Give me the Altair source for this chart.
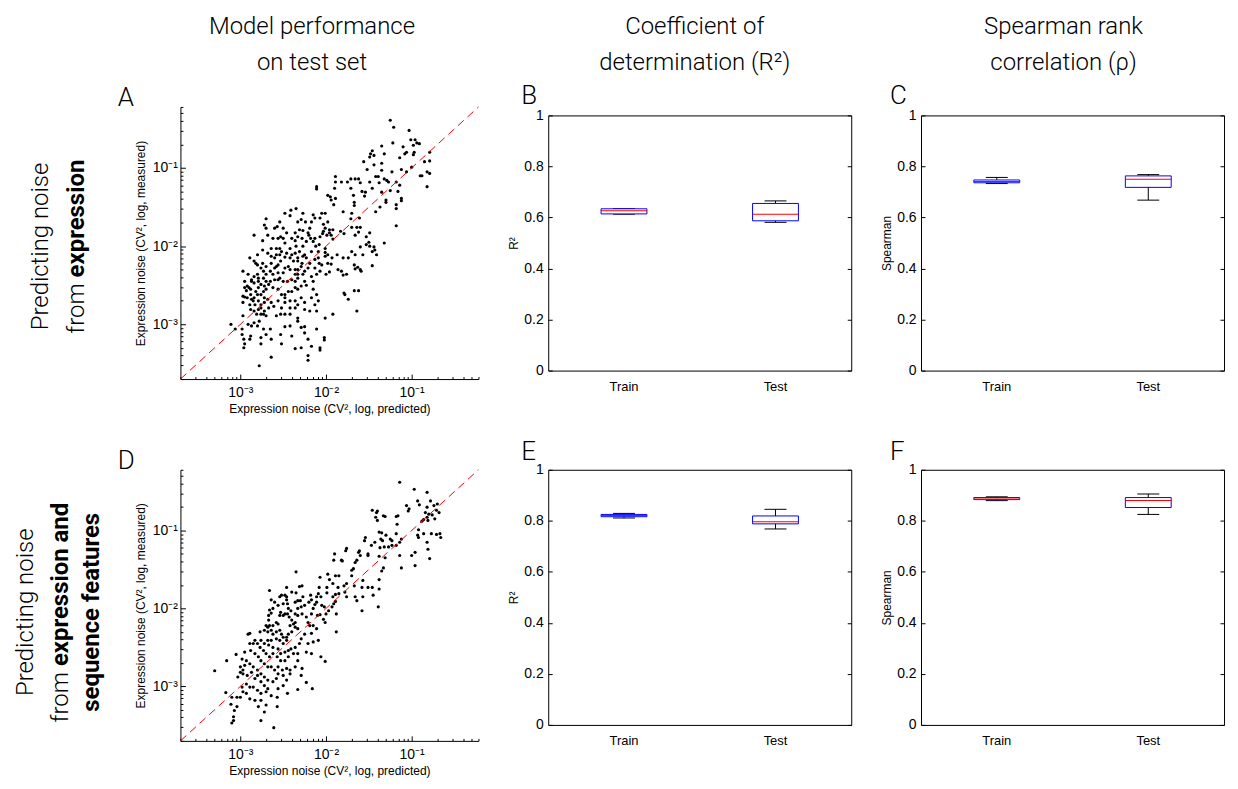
import math
import altair as alt
import pandas as pd

# ---------------- data (log10 of CV^2) ----------------
# Panel A: predicting noise from expression (test set)
a_pred = [-1.25,-1.21,-1.03,-1.22,-0.91,-1.01,-0.96,-0.94,-0.98,-1.10,-1.06,-0.97,-1.08,-0.98,-1.14,-0.79,-1.35,-1.46,-1.48,-1.44,
          -1.49,-1.32,-1.56,-1.44,-1.35,-1.12,-1.00,-0.85,-0.79,-0.82,-0.79,-0.90,-1.06,-1.35,-1.42,-1.32,-1.23,-1.27,-1.18,-1.14,
          -0.82,-0.88,-1.39,-1.52,-1.62,-1.66,-1.89,-1.89,-1.82,-1.71,-1.75,-1.60,-1.49,-1.71,-1.58,-1.54,-1.55,-1.46,-1.38,-1.29,
          -1.35,-1.25,-1.16,-1.12,-1.12,-1.18,-1.18,-1.30,-1.30,-1.37,-1.42,-1.68,-1.67,-1.67,-1.70,-1.80,-1.71,-1.61,-1.60,-1.62,
          -1.66,-1.53,-1.49,-1.50,-1.53,-1.49,-1.44,-1.43,-1.41,-1.46,-1.57,-1.32,-1.46,-1.18,-1.79,-1.83,-1.70,-1.64,-1.92,-1.92,
          -1.80,-1.74,-1.87,-1.67,-1.66,-1.63,-1.59,-1.60,-1.67,-1.62,-1.78,-1.79,-1.74,-1.64,-1.92,-1.96,-2.01,-2.01,-2.09,-2.11,
          -2.11,-1.90,-1.98,-1.95,-1.94,-1.89,-1.91,-2.01,-2.05,-2.07,-1.98,-2.03,-2.01,-1.96,-2.03,-2.04,-2.07,-1.99,-1.96,-1.94,
          -2.12,-2.08,-2.01,-2.09,-2.13,-2.17,-2.19,-2.17,-2.24,-2.29,-2.33,-2.31,-2.27,-2.21,-2.18,-2.15,-2.28,-2.33,-2.40,-2.35,
          -2.36,-2.42,-2.48,-2.50,-2.53,-2.56,-2.54,-2.58,-2.64,-2.68,-2.64,-2.60,-2.54,-2.48,-2.42,-2.38,-2.33,-2.27,-2.25,-2.23,
          -2.19,-2.29,-2.33,-2.36,-2.44,-2.48,-2.50,-2.53,-2.56,-2.60,-2.65,-2.70,-2.73,-2.76,-2.80,-2.84,-2.89,-2.91,-2.73,-2.70,
          -2.65,-2.60,-2.54,-2.50,-2.45,-2.40,-2.36,-2.33,-2.27,-2.25,-2.23,-2.29,-2.33,-2.36,-2.40,-2.44,-2.48,-2.52,-2.56,-2.62,
          -2.67,-2.72,-2.76,-2.79,-2.84,-2.87,-2.92,-2.95,-2.97,-2.93,-2.90,-2.88,-2.84,-2.80,-2.76,-2.72,-2.68,-2.64,-2.72,-2.76,
          -2.79,-2.85,-2.89,-2.88,-2.84,-2.79,-2.73,-2.70,-2.78,-2.84,-2.80,-2.73,-2.70,-2.76,-2.87,-2.91,-2.97,-2.98,-2.98,-2.96,
          -2.95,-2.96,-2.88,-2.89,-3.06,-3.11,-2.97,-2.97,-2.95,-2.65,-2.64,-2.64,-2.78,-2.76,-2.52,-2.53,-2.48,-2.48,-2.42,-2.42,
          -2.40,-2.36,-2.33,-2.29,-2.25,-2.25,-2.29,-2.21,-2.21,-2.21,-2.17,-2.11,-2.07,-2.07,-2.02,-2.02,-2.01,-2.11,-2.19,-2.25,
          -2.29,-2.17,-2.13,-2.09,-2.11,-2.15,-2.15,-2.17,-2.11,-2.07,-2.08,-2.05,-1.98,-1.98,-1.93,-2.00,-1.94,-1.86,-1.82,-1.80,
          -1.76,-1.70,-1.66,-1.60,-2.48,-2.42,-2.41,-2.54,-2.57,-2.70,-2.70,-2.72,-2.84,-2.74,-2.68,-2.62,-2.60,-2.50,-2.46,-2.36,
          -2.35,-2.27,-2.15,-2.13,-2.20,-2.23,-2.27,-2.31,-2.36,-2.40,-2.46,-2.52,-2.58,-2.74,-2.80,-2.82,-2.74,-2.70,-2.64,-2.58,
          -2.80,-2.84,-2.87,-2.79,-2.70,-2.73,-2.79,-2.82,-2.88,-2.95,-2.92,-2.87,-2.83,-2.76,-2.81,-2.76,-2.72,-2.67,-2.61,-2.56,
          -2.52,-2.48,-2.42,-2.36,-2.33,-2.36,-2.42,-2.48,-2.53,-2.58,-2.25,-2.33,-2.56,-2.62,-2.56,-2.42,-2.36,-2.33,-2.25,-2.21,
          -2.28,-2.33,-2.13,-2.13]
a_meas = [-0.39,-0.48,-0.52,-0.68,-0.69,-0.64,-0.64,-0.68,-0.71,-0.73,-0.80,-0.80,-0.82,-0.83,-0.87,-0.80,-0.72,-0.78,-0.82,-0.84,
          -0.86,-0.82,-0.92,-0.96,-0.94,-1.02,-0.99,-0.92,-0.91,-1.05,-1.07,-1.10,-1.05,-1.03,-1.11,-1.14,-1.05,-1.18,-1.18,-1.22,
          -1.24,-1.10,-1.11,-1.02,-1.14,-1.14,-1.11,-1.18,-1.18,-1.14,-1.18,-1.19,-1.18,-1.26,-1.30,-1.31,-1.36,-1.26,-1.19,-1.16,
          -1.31,-1.29,-1.30,-1.39,-1.42,-1.47,-1.52,-1.41,-1.44,-1.50,-1.56,-1.35,-1.44,-1.48,-1.58,-1.56,-1.65,-1.64,-1.76,-1.82,
          -1.86,-1.88,-1.83,-1.95,-1.98,-2.00,-2.01,-2.05,-2.11,-2.07,-2.11,-1.96,-2.25,-1.74,-1.84,-1.81,-1.76,-1.76,-1.79,-1.91,
          -2.15,-2.15,-2.11,-2.24,-2.29,-2.27,-2.32,-2.30,-2.57,-2.57,-2.62,-2.60,-2.68,-2.83,-2.87,-2.33,-2.08,-2.13,-2.07,-1.24,
          -1.27,-1.26,-1.35,-1.37,-1.41,-1.39,-1.47,-1.58,-1.58,-1.64,-1.69,-1.72,-1.77,-1.79,-1.81,-1.84,-1.88,-1.86,-1.83,-1.86,
          -2.00,-1.98,-2.03,-2.15,-2.17,-2.07,-1.77,-1.69,-1.69,-1.66,-1.69,-1.79,-1.80,-1.83,-1.90,-1.94,-1.90,-1.88,-1.90,-2.00,
          -1.93,-2.03,-1.96,-1.90,-1.88,-1.90,-2.03,-2.03,-2.03,-2.09,-2.13,-2.15,-2.11,-2.14,-2.15,-2.19,-2.19,-2.13,-2.11,-2.15,
          -2.22,-2.26,-2.30,-2.30,-2.26,-2.28,-2.34,-2.19,-2.24,-2.28,-2.32,-2.36,-2.32,-2.28,-2.24,-2.19,-2.15,-2.36,-2.41,-2.45,
          -2.45,-2.43,-2.41,-2.45,-2.45,-2.43,-2.45,-2.41,-2.36,-2.45,-2.50,-2.51,-2.55,-2.53,-2.58,-2.58,-2.62,-2.62,-2.55,-2.53,
          -2.49,-2.51,-2.49,-2.45,-2.47,-2.45,-2.51,-2.45,-2.32,-2.57,-2.53,-2.62,-2.66,-2.62,-2.62,-2.66,-2.68,-2.72,-2.72,-2.75,
          -2.70,-2.70,-2.75,-2.81,-2.83,-2.81,-2.87,-2.89,-2.96,-2.98,-3.02,-3.06,-3.13,-3.17,-3.02,-3.00,-2.89,-3.06,-3.13,-3.19,
          -3.25,-3.30,-3.15,-3.19,-3.06,-3.00,-2.72,-2.64,-2.65,-3.06,-3.19,-3.42,-3.53,-3.25,-3.25,-3.13,-3.03,-2.87,-2.87,-3.02,
          -3.15,-3.31,-2.96,-3.04,-3.03,-3.11,-3.30,-3.19,-3.40,-3.46,-3.28,-3.06,-3.30,-3.33,-3.20,-3.17,-2.92,-2.83,-2.83,-2.72,
          -2.66,-2.66,-2.75,-2.70,-2.62,-2.55,-2.45,-2.39,-2.36,-2.32,-2.22,-2.24,-2.22,-2.11,-2.15,-2.36,-2.23,-2.30,-2.32,-2.37,
          -2.36,-2.07,-2.11,-2.01,-1.58,-1.61,-1.54,-1.69,-1.75,-1.77,-1.65,-1.73,-1.86,-1.93,-1.86,-1.90,-1.77,-1.77,-1.83,-1.83,
          -1.52,-1.58,-1.60,-1.64,-1.86,-1.94,-2.00,-2.07,-2.09,-2.11,-2.09,-2.07,-2.11,-2.05,-2.11,-2.22,-2.22,-2.26,-2.22,-2.26,
          -2.36,-2.39,-2.43,-2.41,-2.55,-2.58,-2.53,-2.58,-2.55,-2.53,-2.66,-2.68,-2.75,-2.79,-2.87,-2.87,-2.83,-2.79,-2.77,-2.70,
          -2.79,-2.72,-2.70,-2.70,-2.75,-2.79,-2.79,-2.66,-2.87,-2.89,-2.81,-2.92,-2.43,-2.36,-2.34,-2.30,-2.36,-2.36,-2.32,-2.28,
          -2.22,-2.15,-2.28,-1.90]

# Panel D: predicting noise from expression and sequence features (test set)
d_pred = [-1.14,-0.97,-0.82,-0.93,-0.91,-1.06,-1.03,-1.04,-0.78,-0.82,-0.74,-0.70,-0.71,-0.68,-0.84,-0.80,-0.82,-0.86,-0.88,-0.76,
          -0.73,-0.81,-0.92,-0.93,-0.92,-0.86,-0.77,-0.71,-0.67,-0.66,-0.82,-0.81,-0.79,-0.96,-0.96,-1.00,-1.12,-1.14,-1.18,-1.14,
          -1.12,-1.18,-1.17,-1.18,-1.16,-1.31,-1.33,-1.46,-1.41,-1.40,-1.42,-1.40,-1.34,-1.36,-1.37,-1.32,-1.38,-1.31,-1.27,-1.23,
          -1.25,-1.23,-1.30,-1.35,-1.38,-1.43,-1.54,-1.55,-1.47,-1.51,-1.51,-1.60,-1.62,-1.61,-1.64,-1.66,-1.70,-1.68,-1.76,-1.77,
          -1.82,-1.81,-1.90,-1.91,-1.89,-1.85,-1.70,-1.76,-1.79,-1.78,-1.76,-1.67,-1.66,-1.64,-1.58,-1.57,-1.57,-1.58,-1.51,-1.46,
          -1.45,-1.38,-1.38,-1.39,-1.35,-1.33,-1.85,-1.89,-1.92,-1.91,-1.93,-1.97,-1.89,-1.86,-1.92,-1.98,-1.96,-1.99,-1.99,-2.07,
          -2.08,-2.09,-2.06,-2.11,-2.11,-2.13,-2.05,-2.02,-2.00,-2.03,-2.01,-1.88,-1.88,-2.07,-2.10,-2.15,-2.17,-2.17,-2.18,-2.20,
          -2.28,-2.31,-2.35,-2.27,-2.30,-2.25,-2.29,-2.33,-2.28,-2.33,-2.23,-2.21,-2.19,-2.15,-2.11,-2.17,-2.15,-2.21,-2.23,-2.09,
          -2.06,-2.01,-2.29,-2.31,-2.28,-2.29,-2.23,-2.16,-2.33,-2.33,-2.36,-2.36,-2.38,-2.42,-2.40,-2.36,-2.41,-2.44,-2.45,-2.43,
          -2.48,-2.50,-2.54,-2.53,-2.46,-2.46,-2.45,-2.52,-2.54,-2.60,-2.66,-2.64,-2.58,-2.56,-2.62,-2.66,-2.68,-2.72,-2.68,-2.64,
          -2.62,-2.58,-2.54,-2.52,-2.50,-2.46,-2.44,-2.40,-2.46,-2.50,-2.54,-2.58,-2.64,-2.68,-2.72,-2.67,-2.62,-2.56,-2.53,-2.48,
          -2.44,-2.41,-2.36,-2.38,-2.44,-2.48,-2.53,-2.57,-2.62,-2.66,-2.70,-2.73,-2.77,-2.80,-2.76,-2.83,-2.85,-2.88,-2.83,-2.79,
          -2.76,-2.72,-2.68,-2.64,-2.60,-2.56,-2.51,-2.46,-2.42,-2.50,-2.56,-2.58,-2.62,-2.68,-2.72,-2.76,-2.80,-2.85,-2.89,-2.93,
          -2.95,-2.97,-3.00,-3.00,-2.97,-2.92,-2.87,-2.83,-2.80,-2.76,-2.72,-2.68,-2.70,-2.64,-2.76,-2.80,-2.85,-2.89,-2.93,-2.98,
          -2.97,-2.93,-2.89,-2.83,-2.79,-2.76,-2.70,-2.72,-2.76,-2.61,-2.57,-2.57,-2.56,-2.45,-2.50,-2.46,-2.42,-3.03,-3.04,-3.00,
          -3.04,-3.07,-3.08,-3.10,-3.08,-3.11,-3.10,-3.05,-3.17,-3.30,-3.16,-2.98,-2.95,-2.91,-2.89,-2.89,-2.77,-2.70,-2.67,-2.67,
          -2.62,-2.56,-2.50,-2.66,-2.64,-2.48,-2.46,-2.40,-2.35,-2.33,-2.36,-2.17,-2.33,-2.36,-2.33,-2.25]
d_meas = [-0.38,-0.47,-0.51,-0.62,-0.67,-0.68,-0.72,-0.75,-0.62,-0.70,-0.68,-0.66,-0.74,-0.77,-0.77,-0.79,-0.83,-0.86,-0.88,-0.80,
          -0.85,-0.87,-0.99,-1.06,-1.09,-1.04,-1.04,-1.05,-1.04,-1.09,-1.15,-1.24,-1.36,-1.28,-1.45,-1.32,-1.48,-1.32,-1.19,-1.15,
          -1.11,-1.04,-0.92,-0.82,-0.81,-0.82,-0.81,-0.74,-0.77,-0.75,-0.83,-0.87,-1.13,-1.11,-1.22,-1.21,-1.33,-1.35,-1.21,-1.13,
          -1.11,-1.19,-1.06,-1.03,-1.02,-1.15,-1.09,-1.13,-1.19,-1.30,-1.32,-1.32,-1.28,-1.26,-1.38,-1.41,-1.51,-1.49,-1.23,-1.26,
          -1.38,-1.39,-1.30,-1.38,-1.58,-1.58,-1.58,-1.68,-1.71,-1.79,-1.85,-1.71,-1.85,-1.90,-1.73,-1.64,-1.85,-2.03,-1.73,-1.73,
          -1.83,-1.63,-1.75,-1.98,-1.52,-1.48,-1.81,-1.82,-1.85,-1.94,-1.98,-2.03,-1.91,-1.73,-1.68,-1.56,-1.63,-1.73,-1.80,-1.60,
          -1.73,-1.81,-1.85,-1.85,-1.92,-1.95,-1.96,-1.98,-2.07,-2.14,-2.18,-2.07,-2.30,-2.08,-2.09,-2.00,-2.07,-1.89,-1.83,-1.92,
          -1.71,-1.72,-1.53,-1.85,-1.90,-1.96,-1.98,-2.00,-2.07,-2.09,-2.11,-2.18,-2.22,-2.22,-2.26,-2.32,-2.43,-2.45,-2.56,-2.41,
          -2.62,-2.68,-2.39,-2.45,-2.77,-2.86,-2.95,-3.03,-3.04,-2.26,-2.24,-2.18,-2.20,-2.22,-2.15,-2.07,-2.03,-2.00,-2.07,-2.11,
          -2.07,-2.09,-2.09,-2.05,-1.85,-1.89,-1.94,-1.83,-1.85,-1.92,-2.02,-2.06,-2.18,-2.20,-2.22,-2.22,-2.24,-2.28,-2.30,-2.28,
          -2.33,-2.30,-2.28,-2.33,-2.37,-2.37,-2.33,-2.30,-2.41,-2.45,-2.41,-2.39,-2.41,-2.41,-2.45,-2.47,-2.50,-2.52,-2.58,-2.56,
          -2.54,-2.52,-2.50,-2.58,-2.62,-2.67,-2.67,-2.62,-2.58,-2.62,-2.58,-2.54,-2.50,-2.45,-2.41,-2.41,-2.45,-2.54,-2.58,-2.62,
          -2.67,-2.71,-2.75,-2.75,-2.79,-2.75,-2.79,-2.77,-2.84,-2.86,-2.84,-2.90,-2.94,-2.92,-2.88,-2.84,-2.79,-2.75,-2.71,-2.67,
          -2.73,-2.79,-2.82,-2.75,-2.84,-2.86,-2.82,-2.90,-2.86,-2.94,-2.99,-3.03,-3.07,-3.12,-3.09,-3.05,-3.01,-3.01,-2.97,-3.01,
          -3.07,-3.09,-3.16,-3.18,-3.26,-3.18,-3.24,-3.33,-3.44,-3.53,-3.26,-3.14,-3.03,-3.09,-2.99,-2.92,-2.79,-2.88,-3.14,-3.14,
          -3.26,-3.31,-3.39,-3.47,-3.44,-3.23,-3.14,-2.59,-3.08,-2.80,-2.67,-2.65,-2.56,-2.33,-2.32,-2.45,-2.30,-2.22,-2.15,-2.09,
          -2.00,-1.96,-1.94,-1.77,-1.89,-1.83,-1.73,-1.79,-1.80,-1.90,-1.92,-2.58,-2.67,-2.75,-2.58,-2.33]

# Box-plot summaries: [Train, Test]
groups = ["Train", "Test"]
b_stats = {"lower": [0.613, 0.581], "q1": [0.614, 0.587], "med": [0.626, 0.613], "q3": [0.634, 0.655], "upper": [0.635, 0.665]}
c_stats = {"lower": [0.733, 0.668], "q1": [0.736, 0.718], "med": [0.741, 0.750], "q3": [0.747, 0.763], "upper": [0.757, 0.768]}
e_stats = {"lower": [0.811, 0.768], "q1": [0.816, 0.788], "med": [0.821, 0.796], "q3": [0.825, 0.819], "upper": [0.829, 0.845]}
f_stats = {"lower": [0.879, 0.825], "q1": [0.883, 0.852], "med": [0.885, 0.880], "q3": [0.891, 0.891], "upper": [0.894, 0.905]}

# ---------------- styling ----------------
AFONT = "Liberation Sans"
TFONT = "Roboto"
LO, HI = -3.7, -0.22
MAJOR = [-3, -2, -1]
MINOR = sorted({round(d + math.log10(k), 6) for d in (-4, -3, -2, -1) for k in range(2, 10)
                if LO <= d + math.log10(k) <= HI})
LABEL_EXPR = "'10' + (datum.value < -2.5 ? '⁻³' : datum.value < -1.5 ? '⁻²' : '⁻¹')"

SW, SH1, SH2 = 299, 273, 272
BW, BH = 304, 256


def text(s, x, y, size=24, weight=300, align="center", angle=0, font=TFONT):
    return alt.Chart(pd.DataFrame({"t": [s]})).mark_text(
        align=align, baseline="alphabetic", angle=angle, fontSize=size,
        fontWeight=weight, font=font, color="black"
    ).encode(text="t:N", x=alt.value(x), y=alt.value(y))


def scatter(pred, meas, height, extras):
    df = pd.DataFrame({"pred": pred, "meas": meas})
    sc = alt.Scale(domain=[LO, HI], nice=False, zero=False)
    x_major = alt.Axis(orient="bottom", values=MAJOR, labelExpr=LABEL_EXPR, tickSize={"expr": "-5"},
                       labelPadding=12, labelFontSize=14, labelOverlap=False, labelFlush=False,
                       title="Expression noise (CV², log, predicted)", titleFontSize=12, titlePadding=4)
    y_major = alt.Axis(orient="left", values=MAJOR, labelExpr=LABEL_EXPR, tickSize={"expr": "-5"},
                       labelPadding=8, labelFontSize=14, labelOverlap=False, labelFlush=False,
                       title="Expression noise (CV², log, measured)", titleFontSize=12, titlePadding=5)
    x_minor = alt.Axis(orient="bottom", values=MINOR, labels=False, tickSize={"expr": "-2.5"},
                       domain=False, title=None)
    y_minor = alt.Axis(orient="left", values=MINOR, labels=False, tickSize={"expr": "-2.5"},
                       domain=False, title=None)
    pts = alt.Chart(df).mark_circle(size=10, color="black", opacity=1).encode(
        x=alt.X("pred:Q", scale=sc, axis=x_major),
        y=alt.Y("meas:Q", scale=sc, axis=y_major),
    )
    diag = alt.Chart(pd.DataFrame({"pred": [LO, HI], "meas": [LO, HI]})).mark_line(
        color="red", strokeDash=[8, 5], strokeWidth=1
    ).encode(x=alt.X("pred:Q", scale=sc, axis=x_minor), y=alt.Y("meas:Q", scale=sc, axis=y_minor))
    return (alt.layer(pts, diag, *extras)
            .resolve_axis(x="independent", y="independent")
            .properties(width=SW, height=height))


def box(stats, ytitle, extras):
    df = pd.DataFrame({"cat": groups, **stats})
    xs = alt.Scale(type="band", domain=groups, paddingInner=0, paddingOuter=0)
    ys = alt.Scale(domain=[0, 1], nice=False, zero=False)
    vals = [0, 0.2, 0.4, 0.6, 0.8, 1]
    xaxis = alt.Axis(title=None, ticks=False, domain=False, labelAngle=0, labelPadding=10, labelFontSize=13)
    left = alt.Axis(orient="left", values=vals, format="~g", tickSize={"expr": "-4"}, labelPadding=9,
                    labelFontSize=14, domain=False, title=ytitle, titleFontSize=12, titlePadding=3,
                    labelFlush=False, labelOverlap=False)
    right = alt.Axis(orient="right", values=vals, labels=False, tickSize={"expr": "-4"}, domain=False, title=None)
    X = alt.X("cat:N", scale=xs, sort=groups, axis=xaxis)
    whisk = alt.Chart(df).mark_rule(color="black", strokeWidth=1).encode(
        x=X, y=alt.Y("lower:Q", scale=ys, axis=left), y2="upper:Q")
    cap_lo = alt.Chart(df).mark_tick(color="black", size=22, thickness=1, opacity=1).encode(
        x=X, y=alt.Y("lower:Q", scale=ys, axis=None))
    cap_hi = alt.Chart(df).mark_tick(color="black", size=22, thickness=1, opacity=1).encode(
        x=X, y=alt.Y("upper:Q", scale=ys, axis=None))
    bx = alt.Chart(df).mark_bar(size=46, fill="white", stroke="blue", strokeWidth=1).encode(
        x=X, y=alt.Y("q1:Q", scale=ys, axis=None), y2="q3:Q")
    med = alt.Chart(df).mark_tick(color="red", size=46, thickness=1, opacity=1).encode(
        x=X, y=alt.Y("med:Q", scale=ys, axis=right))
    return (alt.layer(whisk, cap_lo, cap_hi, bx, med, *extras)
            .resolve_axis(y="independent")
            .properties(width=BW, height=BH, view=alt.ViewBackground(stroke="black", strokeWidth=1)))


# ---------------- panels ----------------
A = scatter(a_pred, a_meas, SH1, [
    text("Model performance", 132, -73),
    text("on test set", 132, -37),
    text("A", -63, -1, size=26, align="left"),
    text("Predicting noise", -133, 140, angle=270),
    text("from", -97, 177, align="right", angle=270),
    text("expression", -97, 171, weight="bold", align="left", angle=270),
])
B = box(b_stats, "R²", [
    text("Coefficient of", 147, -81.5),
    text("determination (R²)", 147, -45.5),
    text("B", -27, -11, size=26, align="left"),
])
C = box(c_stats, "Spearman", [
    text("Spearman rank", 143, -81.5),
    text("correlation (ρ)", 143, -45.5),
    text("C", -31, -11, size=26, align="left"),
])
D = scatter(d_pred, d_meas, SH2, [
    text("D", -63, -1, size=26, align="left"),
    text("Predicting noise", -148, 143, angle=270),
    text("from", -113, 203, align="right", angle=270),
    text("expression and", -113, 197, weight="bold", align="left", angle=270),
    text("sequence features", -82, 143, weight="bold", angle=270),
])
E = box(e_stats, "R²", [text("E", -27, -10, size=26, align="left")])
F = box(f_stats, "Spearman", [text("F", -31, -10, size=26, align="left")])

chart = alt.concat(
    A, B, C, D, E, F, columns=3, spacing={"row": 91, "column": 70},
    bounds="flush", align="each", center=True,
).properties(
    padding={"left": 6, "top": 5, "right": 5, "bottom": 5}
).configure_view(stroke=None).configure_axis(
    labelFont=AFONT, titleFont=AFONT, labelColor="black", titleColor="black",
    domainColor="black", tickColor="black", titleFontWeight="normal", grid=False,
    domainWidth=1, tickWidth=1,
)

chart.save("out.html", embed_options={"renderer": "svg", "actions": False})
